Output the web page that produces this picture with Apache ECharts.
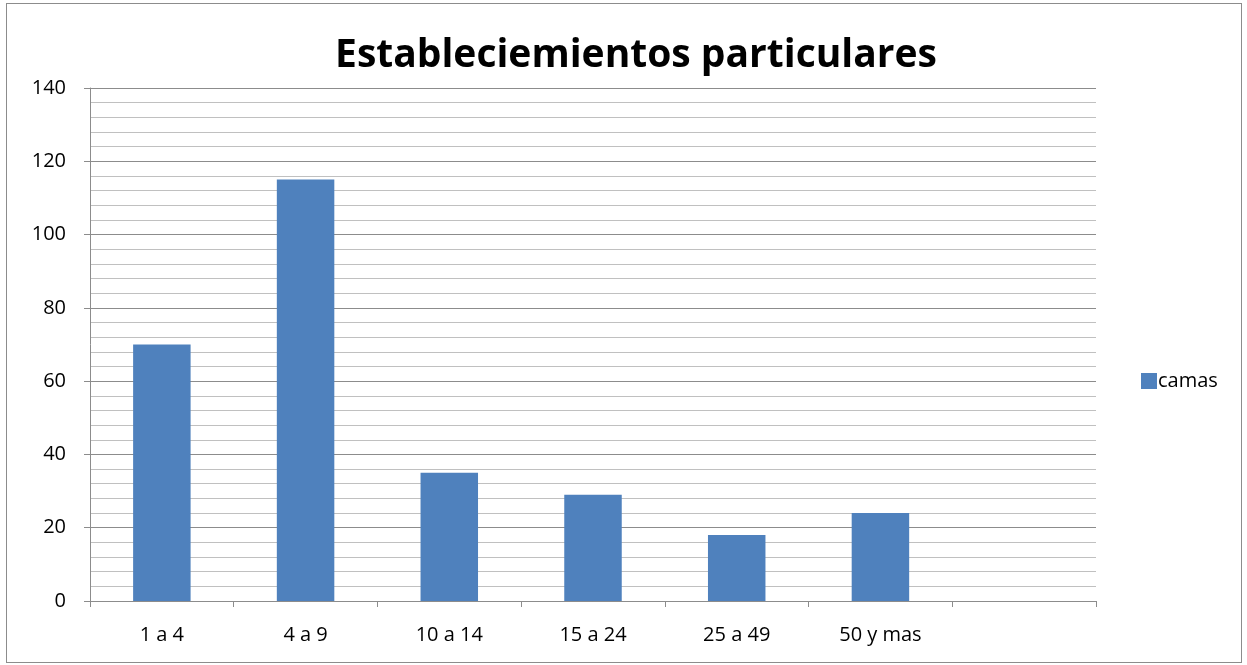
<!DOCTYPE html>
<html>
<head>
<meta charset="utf-8">
<script src="https://cdn.jsdelivr.net/npm/echarts@6/dist/echarts.min.js"></script>
<style>
  html, body { margin: 0; padding: 0; background: #fff; }
  #frame { position: absolute; left: 6px; top: 3px; width: 1234px; height: 658px; border: 1px solid #8c8c8c; }
  #chart { position: absolute; left: 0; top: 0; width: 1247px; height: 665px; }
</style>
</head>
<body>
<div id="frame"></div>
<div id="chart"></div>
<script>
  // Chart data
  const categories = ['1 a 4', '4 a 9', '10 a 14', '15 a 24', '25 a 49', '50 y mas', ''];
  const camas = [70, 115, 35, 29, 18, 24, null];
  const seriesName = 'camas';
  const titleText = 'Estableciemientos particulares';

  const chart = echarts.init(document.getElementById('chart'));
  const font = '"Open Sans", "Liberation Sans", sans-serif';

  const option = {
    animation: false,
    backgroundColor: 'transparent',
    title: {
      text: titleText,
      left: 631,
      top: 31,
      textAlign: 'center',
      textStyle: { fontFamily: font, fontSize: 39, fontWeight: 'bold', color: '#000' }
    },
    legend: {
      orient: 'vertical',
      left: 1136,
      top: 366,
      itemWidth: 16,
      itemHeight: 16,
      itemGap: 4,
      textStyle: { fontFamily: font, fontSize: 20, color: '#000', padding: [0, 0, 0, -4] },
      data: [{ name: seriesName, icon: 'rect' }]
    },
    grid: { left: 90, right: 151, top: 88, bottom: 64 },
    xAxis: {
      type: 'category',
      data: categories,
      axisLine: { lineStyle: { color: '#8c8c8c', width: 1 } },
      axisTick: { show: true, length: 6, lineStyle: { color: '#8c8c8c' } },
      axisLabel: { fontFamily: font, fontSize: 20, color: '#000', margin: 24 }
    },
    yAxis: {
      type: 'value',
      min: 0,
      max: 140,
      interval: 20,
      axisLine: { show: true, lineStyle: { color: '#8c8c8c', width: 1 } },
      axisTick: { show: true, length: 6, lineStyle: { color: '#8c8c8c' } },
      axisLabel: { fontFamily: font, fontSize: 20, color: '#000', margin: 24 },
      splitLine: { show: true, lineStyle: { color: '#8c8c8c', width: 1 } },
      minorTick: { show: false, splitNumber: 5 },
      minorSplitLine: { show: true, lineStyle: { color: '#c0c0c0', width: 1 } }
    },
    series: [{
      name: seriesName,
      type: 'bar',
      data: camas,
      barWidth: '40%',
      itemStyle: { color: '#4f81bd' }
    }]
  };

  chart.setOption(option);
</script>
</body>
</html>
